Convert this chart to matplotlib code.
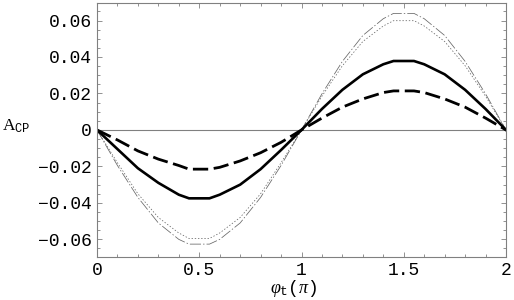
import matplotlib
matplotlib.use("Agg")
import matplotlib.pyplot as plt
from matplotlib.ticker import MultipleLocator, FixedLocator

plt.rcParams['lines.scale_dashes'] = False
plt.rcParams['mathtext.fontset'] = 'custom'
plt.rcParams['mathtext.rm'] = 'Liberation Serif'
plt.rcParams['mathtext.it'] = 'Liberation Serif:italic'
plt.rcParams['mathtext.tt'] = 'Liberation Mono'

## phase values (units of pi)
phi = [0, 0.1, 0.2, 0.3, 0.4, 0.45, 0.55, 0.6, 0.7, 0.8, 0.9, 1.0,
       1.1, 1.2, 1.3, 1.4, 1.45, 1.55, 1.6, 1.7, 1.8, 1.9, 2.0]

## asymmetries
acp_solid = [0, -0.0105, -0.021, -0.029, -0.0355, -0.0375, -0.0375, -0.0355, -0.030, -0.0215, -0.011, 0,
             0.0115, 0.022, 0.0305, 0.036, 0.0378, 0.0378, 0.036, 0.0305, 0.022, 0.0115, 0]
acp_dashed = [0, -0.0055, -0.0115, -0.016, -0.0195, -0.0215, -0.0215, -0.0205, -0.017, -0.0125, -0.0068, 0,
              0.0065, 0.0125, 0.017, 0.0205, 0.0214, 0.0214, 0.0205, 0.017, 0.0125, 0.0065, 0]
acp_dotted = [0, -0.018, -0.035, -0.048, -0.0565, -0.0595, -0.0595, -0.0565, -0.048, -0.035, -0.018, 0,
              0.0185, 0.0352, 0.0485, 0.057, 0.0599, 0.0599, 0.057, 0.0485, 0.0352, 0.0185, 0]
acp_dashdot = [0, -0.0195, -0.037, -0.051, -0.060, -0.0626, -0.0626, -0.060, -0.051, -0.037, -0.0195, 0,
               0.0198, 0.0376, 0.0518, 0.061, 0.0639, 0.0639, 0.061, 0.0518, 0.0376, 0.0198, 0]

xticks = [0, 0.5, 1, 1.5, 2]
xticklabels = ['0', '0.5', '1', '1.5', '2']
yticks = [-0.06, -0.04, -0.02, 0, 0.02, 0.04, 0.06]
yticklabels = ['\u22120.06', '\u22120.04', '\u22120.02', '0', '0.02', '0.04', '0.06']

fig = plt.figure(figsize=(5.14, 3.0), dpi=100)
ax = fig.add_axes([97 / 514, 1 - 256.7 / 300, 409 / 514, 253.7 / 300])

ax.axhline(0, color='#808080', lw=0.8, zorder=1)

ax.plot(phi, acp_dashdot, color='#666666', lw=0.55, dashes=(8, 1.5, 1, 1.5))
ax.plot(phi, acp_dotted, color='#666666', lw=0.55, dashes=(1, 1.3))
ax.plot(phi, acp_solid, color='black', lw=1.9, solid_joinstyle='miter')
ax.plot(phi, acp_dashed, color='black', lw=2.0, dashes=(11, 4))

ax.set_xlim(0, 2)
ax.set_ylim(-0.0695, 0.0696)

ax.xaxis.set_major_locator(FixedLocator(xticks))
ax.set_xticklabels(xticklabels)
ax.xaxis.set_minor_locator(MultipleLocator(0.1))
ax.yaxis.set_major_locator(FixedLocator(yticks))
ax.set_yticklabels(yticklabels)
ax.yaxis.set_minor_locator(MultipleLocator(0.005))

ax.tick_params(which='both', direction='in', top=True, right=True, color='#808080', width=0.6,
               labelsize=13, labelcolor='black')
ax.tick_params(which='major', length=3.5)
ax.tick_params(which='minor', length=2)
ax.tick_params(axis='x', pad=4)
ax.tick_params(axis='y', pad=4)
for lab in ax.get_xticklabels() + ax.get_yticklabels():
    lab.set_family('Liberation Mono')

for sp in ax.spines.values():
    sp.set_color('#808080')
    sp.set_linewidth(0.8)

fig.text(2 / 514, 1 - 131 / 300, r'$\mathrm{A}_{\mathtt{CP}}$', fontsize=12.5, ha='left', va='baseline')
fig.text(294 / 514, 1 - 293 / 300, r'$\varphi_{\mathtt{t}}\mathtt{(}\pi\mathtt{)}$', fontsize=13,
         ha='center', va='baseline')

plt.savefig('out.png', dpi=100)
plt.close()
